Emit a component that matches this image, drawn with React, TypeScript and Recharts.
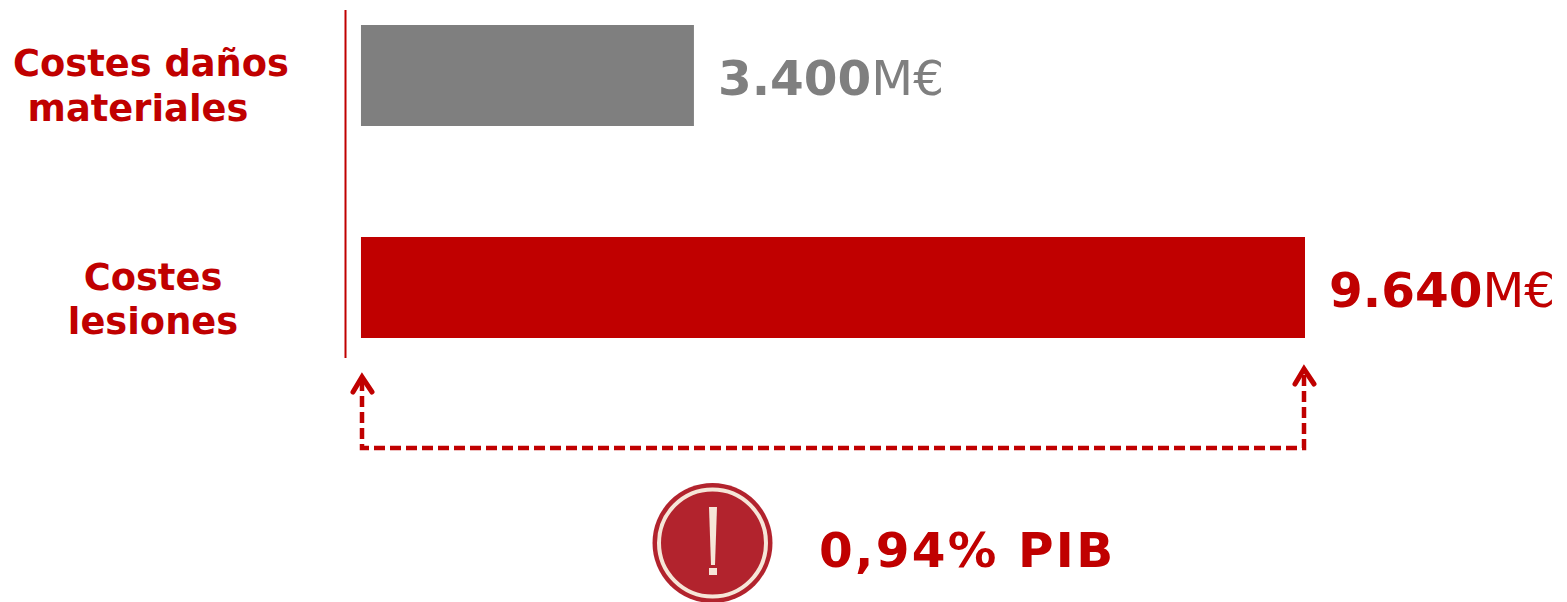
import React from "react";
import { BarChart, Bar, XAxis, YAxis, LabelList, Cell } from "recharts";

const categories = ["Costes daños|materiales", "Costes|lesiones"];
const values = [3400, 9640];
const valueLabels = ["3.400", "9.640"];
const unit = "M€";
const colors = ["#7F7F7F", "#C00000"];
const note = "0,94% PIB";

const rows = categories.map((name, i) => ({ name, value: values[i], label: valueLabels[i], color: colors[i] }));
const FONT = "'DejaVu Sans', Verdana, sans-serif";
const RED = "#C00000";
const tickCenters: Record<string, number[]> = { "Costes daños|materiales": [151, 138], "Costes|lesiones": [153, 153] };
const tickOffsets: Record<string, number[]> = { "Costes daños|materiales": [1, 46], "Costes|lesiones": [3, 47] };

const YTick = (props: any) => {
  const { y, payload } = props;
  const lines = String(payload.value).split("|");
  const cx = tickCenters[payload.value] || [150, 150];
  const dy = tickOffsets[payload.value] || [0, 45];
  return (
    <text fill={RED} fontFamily={FONT} fontWeight="bold" fontSize={36.8} textAnchor="middle">
      {lines.map((l, i) => (
        <tspan key={l} x={cx[i]} y={y + dy[i]}>{l}</tspan>
      ))}
    </text>
  );
};

const ValueLabel = (props: any) => {
  const { x, y, width, height, index } = props;
  return (
    <text x={x + width + 24} y={y + height / 2 + 19} fontFamily={FONT} fontSize={48.5} fill={colors[index]}>
      <tspan fontWeight="bold">{valueLabels[index]}</tspan>
      <tspan>{unit}</tspan>
    </text>
  );
};

export default function App() {
  return (
    <div style={{ position: "absolute", left: 0, top: 0, width: 1567, height: 602, background: "#fff" }}>
      <BarChart
        width={1567}
        height={602}
        data={rows}
        layout="vertical"
        margin={{ top: 10, right: 262, bottom: 244, left: 0.5 }}
      >
        <XAxis type="number" domain={[-158, 9640]} hide allowDataOverflow />
        <YAxis
          type="category"
          dataKey="name"
          width={345}
          scale="point"
          padding={{ top: 65, bottom: 71 }}
          axisLine={{ stroke: RED, strokeWidth: 2 }}
          tickLine={false}
          tick={<YTick />}
          interval={0}
        />
        <Bar dataKey="value" barSize={101} isAnimationActive={false}>
          {rows.map((r) => (
            <Cell key={r.name} fill={r.color} />
          ))}
          <LabelList dataKey="label" content={<ValueLabel />} />
        </Bar>
      </BarChart>
      <svg width={1567} height={602} style={{ position: "absolute", left: 0, top: 0 }}>
        <path d="M362 380 V448 H1304 V372" fill="none" stroke={RED} strokeWidth={4.5} strokeDasharray="11 5" />
        <path d="M353 392 L362 377 L372 392" fill="none" stroke={RED} strokeWidth={5} strokeLinecap="round" />
        <path d="M1295 384 L1304 369 L1314 384" fill="none" stroke={RED} strokeWidth={5} strokeLinecap="round" />
        <circle cx={712.5} cy={543} r={60} fill="#B2232D" />
        <circle cx={712.5} cy={543} r={53.5} fill="none" stroke="#F6E6D8" strokeWidth={4} />
        <path d="M709 507 H717 L715 565 H711 Z" fill="#F6E6D8" />
        <rect x={709} y={568} width={8} height={7} fill="#F6E6D8" />
        <text x={819} y={567} fontFamily={FONT} fontWeight="bold" fontSize={48.5} letterSpacing={2.3} fill={RED}>{note}</text>
      </svg>
    </div>
  );
}
